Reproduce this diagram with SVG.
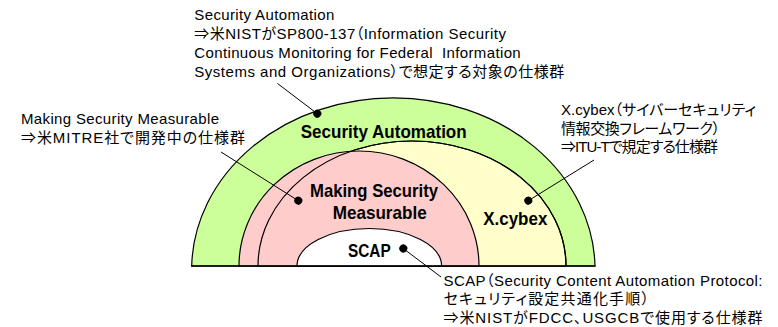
<svg xmlns="http://www.w3.org/2000/svg" width="778" height="327" viewBox="0 0 778 327">
  <style>
    .area { stroke: #000; stroke-width: 1.2; }
    .green { fill: #CCFF99; }
    .yellow { fill: #FFFFCC; }
    .pink { fill: #FFCCCC; }
    .white { fill: #FFFFFF; }
    .outline { fill: none; stroke: #000; stroke-width: 1.2; }
    .label { font-family: "Liberation Sans", "Noto Sans CJK JP", sans-serif; font-weight: bold; font-size: 19px; fill: #000; }
    .note { font-family: "Liberation Sans", "Noto Sans CJK JP", sans-serif; font-size: 15px; fill: #000; font-feature-settings: "palt"; }
    .leader { stroke: #000; stroke-width: 1; fill: none; marker-end: url(#dot); }
  </style>
  <defs>
    <marker id="dot" markerUnits="userSpaceOnUse" markerWidth="10" markerHeight="10" refX="5" refY="5" viewBox="0 0 10 10" orient="auto">
      <circle cx="5" cy="5" r="4" fill="#000"/>
    </marker>
  </defs>
  <rect width="778" height="327" fill="#FFFFFF"/>

  <g id="security-automation">
    <path class="area green" d="M191.7,266 A201.7,172 0 0 1 595,266 Z"/>
  </g>
  <g id="x-cybex">
    <path class="area yellow" d="M258,266 A154,125 0 0 1 566,266 Z"/>
  </g>
  <g id="making-security-measurable">
    <path class="area pink" d="M239,266 A120,115 0 0 1 479,266 Z"/>
  </g>
  <path class="outline" d="M258,266 A154,125 0 0 1 566,266"/>
  <g id="scap">
    <path class="area white" d="M297,266 A72.3,37.5 0 0 1 441.6,266 Z"/>
  </g>
  <line x1="191" y1="266" x2="595.5" y2="266" stroke="#000" stroke-width="1.6"/>

  <g id="labels">
    <text class="label" x="300.7" y="138.3" textLength="166" lengthAdjust="spacingAndGlyphs">Security Automation</text>
    <text class="label" x="310" y="196.5" textLength="128" lengthAdjust="spacingAndGlyphs">Making Security</text>
    <text class="label" x="332.7" y="219" textLength="94" lengthAdjust="spacingAndGlyphs">Measurable</text>
    <text class="label" x="348" y="256.7" textLength="42.7" lengthAdjust="spacingAndGlyphs">SCAP</text>
    <text class="label" x="483.3" y="225" textLength="64" lengthAdjust="spacingAndGlyphs">X.cybex</text>
  </g>

  <g id="note-security-automation">
    <text class="note" x="194.3" y="20" textLength="140">Security Automation</text>
    <text class="note" x="194.3" y="39" textLength="311.7">⇒米NISTがSP800-137（Information Security</text>
    <text class="note" x="194.3" y="58" textLength="326.4" xml:space="preserve">Continuous Monitoring for Federal  Information</text>
    <text class="note" x="194.3" y="77" textLength="370">Systems and Organizations）で想定する対象の仕様群</text>
  </g>
  <g id="note-msm">
    <text class="note" x="21" y="124" textLength="198">Making Security Measurable</text>
    <text class="note" x="21" y="142.7" textLength="224">⇒米MITRE社で開発中の仕様群</text>
  </g>
  <g id="note-xcybex">
    <text class="note" x="561" y="115" textLength="195">X.cybex（サイバーセキュリティ</text>
    <text class="note" x="561" y="133.5" textLength="159">情報交換フレームワーク）</text>
    <text class="note" x="561" y="152" textLength="157">⇒ITU-Tで規定する仕様群</text>
  </g>
  <g id="note-scap">
    <text class="note" x="443.5" y="285.5" textLength="319">SCAP（Security Content Automation Protocol:</text>
    <text class="note" x="443.5" y="304" textLength="205.5">セキュリティ設定共通化手順）</text>
    <text class="note" x="443.5" y="322.5" textLength="319">⇒米NISTがFDCC、USGCBで使用する仕様群</text>
  </g>

  <g id="connectors">
    <line class="leader" x1="277.5" y1="83.5" x2="317.3" y2="113.7"/>
    <line class="leader" x1="221" y1="152" x2="298.3" y2="200.7"/>
    <line class="leader" x1="441" y1="277" x2="403.3" y2="248.5"/>
    <line class="leader" x1="594" y1="160" x2="528.3" y2="200.7"/>
  </g>
</svg>
